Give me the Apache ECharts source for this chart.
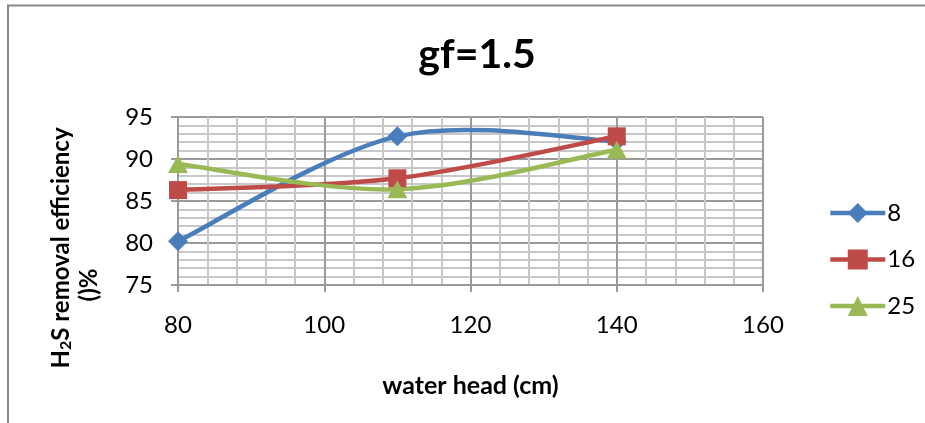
<!DOCTYPE html>
<html>
<head>
<meta charset="utf-8">
<title>gf=1.5</title>
<script src="https://cdn.jsdelivr.net/npm/echarts@6/dist/echarts.min.js"></script>
<style>
  html, body { margin: 0; padding: 0; background: #fff; }
  #chart { width: 925px; height: 423px; }
</style>
</head>
<body>
<div id="chart"></div>
<script>
// Water head (cm) on the x axis
const waterHead = [80, 110, 140];
// H2S removal efficiency (%) for each series
const series8 = [80.2, 92.7, 92.1];
const series16 = [86.3, 87.7, 92.7];
const series25 = [89.4, 86.4, 91.1];
const seriesNames = ['8', '16', '25'];

const FONT = 'Lato, "Open Sans", sans-serif';
const colors = ['#4A7EBB', '#BE4B48', '#98B954'];
const symbols = ['diamond', 'rect', 'triangle'];
const symbolSizes = [[20, 20], [18, 18], [20, 18]];
const allValues = [series8, series16, series25];
const LINE_W = 4.5;

function pairs(values) {
  return waterHead.map((x, i) => [x, values[i]]);
}

// Smoothed curve: each data item draws the cubic segment to the next point,
// control points taken from the neighbouring points (tension 1/6).
function curveRenderer(values, color) {
  return function (params, api) {
    const i = params.dataIndex;
    const n = waterHead.length;
    if (i >= n - 1) return null;
    const pt = (k) => api.coord([waterHead[Math.max(0, Math.min(n - 1, k))], values[Math.max(0, Math.min(n - 1, k))]]);
    const p0 = pt(i - 1), p1 = pt(i), p2 = pt(i + 1), p3 = pt(i + 2);
    return {
      type: 'bezierCurve',
      shape: {
        x1: p1[0], y1: p1[1],
        x2: p2[0], y2: p2[1],
        cpx1: p1[0] + (p2[0] - p0[0]) / 6,
        cpy1: p1[1] + (p2[1] - p0[1]) / 6,
        cpx2: p2[0] - (p3[0] - p1[0]) / 6,
        cpy2: p2[1] - (p3[1] - p1[1]) / 6
      },
      style: { stroke: color, lineWidth: LINE_W, fill: null, lineCap: 'round' },
      silent: true
    };
  };
}

const curveSeries = allValues.map((values, s) => ({
  type: 'custom',
  name: 'curve-' + seriesNames[s],
  data: pairs(values),
  renderItem: curveRenderer(values, colors[s]),
  clip: true,
  z: 2,
  silent: true
}));

const markerSeries = allValues.map((values, s) => ({
  name: seriesNames[s],
  type: 'line',
  data: pairs(values),
  symbol: symbols[s],
  symbolSize: symbolSizes[s],
  lineStyle: { color: colors[s], width: 0, opacity: 0 },
  itemStyle: { color: colors[s] },
  z: 3 + s
}));

const chart = echarts.init(document.getElementById('chart'), null, { renderer: 'canvas' });

chart.setOption({
  animation: false,
  backgroundColor: '#ffffff',
  title: {
    text: 'gf=1.5',
    left: 472,
    top: 29,
    textAlign: 'center',
    textStyle: { fontFamily: FONT, fontWeight: 'bold', fontSize: 41, color: '#000' }
  },
  legend: {
    orient: 'vertical',
    left: 823,
    top: 196,
    itemWidth: 55,
    itemHeight: 25,
    itemGap: 22.5,
    textStyle: { fontFamily: FONT, fontSize: 24, color: '#000', padding: [0, 0, 0, -3] },
    data: seriesNames.map((name, s) => ({
      name: name,
      lineStyle: { color: colors[s], width: LINE_W, opacity: 1 }
    }))
  },
  grid: { left: 178, right: 162, top: 117, bottom: 138, containLabel: false },
  xAxis: {
    type: 'value',
    min: 80,
    max: 160,
    interval: 20,
    name: 'water head (cm)',
    nameLocation: 'middle',
    nameGap: 88,
    nameTextStyle: { fontFamily: FONT, fontWeight: 'bold', fontSize: 25, color: '#000' },
    axisLine: { show: true, onZero: false, lineStyle: { color: '#9a9a9a', width: 2 } },
    axisTick: { show: true, length: 7, inside: false, lineStyle: { color: '#9a9a9a', width: 2 } },
    axisLabel: { margin: 28, fontFamily: FONT, fontSize: 24, color: '#000' },
    splitLine: { show: true, lineStyle: { color: '#9a9a9a', width: 2 } },
    minorTick: { show: false, splitNumber: 5 },
    minorSplitLine: { show: true, lineStyle: { color: '#c8c8c8', width: 2 } }
  },
  yAxis: {
    type: 'value',
    min: 75,
    max: 95,
    interval: 5,
    axisLine: { show: true, lineStyle: { color: '#9a9a9a', width: 2 } },
    axisTick: { show: true, length: 7, inside: false, lineStyle: { color: '#9a9a9a', width: 2 } },
    axisLabel: { margin: 25, fontFamily: FONT, fontSize: 24, color: '#000' },
    splitLine: { show: true, lineStyle: { color: '#9a9a9a', width: 2 } },
    minorTick: { show: false, splitNumber: 5 },
    minorSplitLine: { show: true, lineStyle: { color: '#c8c8c8', width: 2 } }
  },
  series: curveSeries.concat(markerSeries),
  graphic: [
    {
      // chart area frame: top and left edges
      type: 'polyline',
      shape: { points: [[8, 423], [8, 5.5], [925, 5.5]] },
      style: { stroke: '#878787', lineWidth: 2, fill: null },
      silent: true
    },
    {
      type: 'text',
      x: 61,
      y: 248,
      rotation: Math.PI / 2,
      style: {
        text: '{b|H}{s|2}{b|S removal efficiency}',
        align: 'center',
        verticalAlign: 'middle',
        rich: {
          b: { fontFamily: FONT, fontWeight: 'bold', fontSize: 24, color: '#000' },
          s: { fontFamily: FONT, fontWeight: 'bold', fontSize: 16, color: '#000', padding: [9, 0, 0, 0] }
        }
      },
      silent: true
    },
    {
      type: 'text',
      x: 89,
      y: 285,
      rotation: Math.PI / 2,
      style: {
        text: '()%',
        align: 'center',
        verticalAlign: 'middle',
        fontFamily: FONT,
        fontWeight: 'bold',
        fontSize: 24,
        fill: '#000'
      },
      silent: true
    }
  ]
});
</script>
</body>
</html>
